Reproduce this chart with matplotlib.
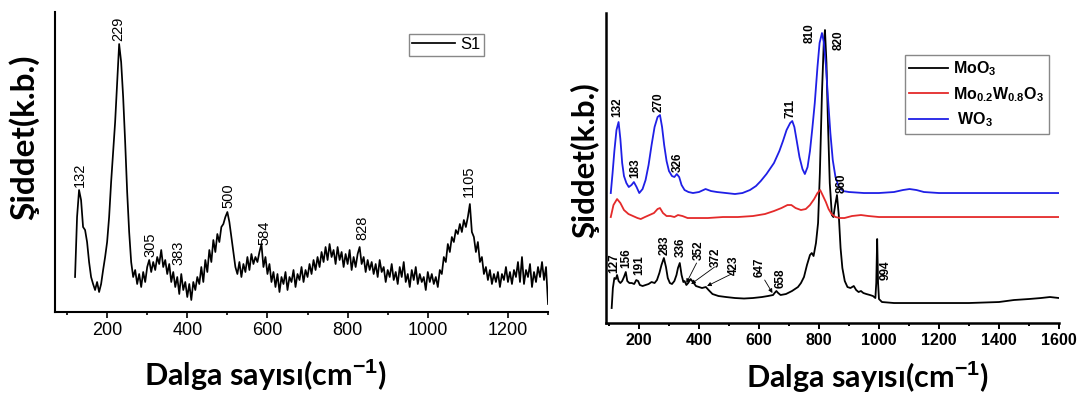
import numpy as np
import matplotlib.pyplot as plt

plt.rcParams["font.family"] = "Liberation Sans"
plt.rcParams["mathtext.fontset"] = "custom"
plt.rcParams["mathtext.rm"] = "Liberation Sans:bold"
plt.rcParams["mathtext.default"] = "rm"

# ---- S1 Raman spectrum (left) ----
s1_shift = np.arange(120, 1301, 5)
s1_intensity = (
    [35, 95, 122, 112, 85, 82, 70, 50, 35, 28, 22, 30, 20, 28, 42, 55, 70, 95, 130, 160]      # 120-215
    + [190, 230, 268, 250, 215, 170, 120, 80, 50, 35, 42, 28, 38, 25, 40, 30, 45, 52, 40, 50]  # 220-315
    + [42, 55, 48, 62, 45, 52, 38, 48, 30, 40, 25, 35, 18, 38, 22, 30, 15, 28, 12, 30]         # 320-415
    + [22, 35, 28, 45, 30, 52, 40, 62, 50, 72, 60, 78, 70, 85, 88, 95, 100, 90, 75, 60]        # 420-515
    + [45, 38, 50, 35, 48, 40, 55, 42, 58, 48, 55, 50, 60, 68, 45, 55, 38, 48, 30, 40]         # 520-615
    + [25, 38, 20, 35, 28, 40, 22, 35, 30, 42, 25, 38, 32, 45, 30, 42, 35, 48, 38, 52]         # 620-715
    + [42, 55, 45, 60, 50, 65, 52, 68, 55, 62, 48, 65, 52, 60, 45, 58, 48, 62, 42, 55]         # 720-815
    + [45, 58, 65, 48, 55, 40, 52, 42, 50, 38, 48, 35, 52, 40, 45, 30, 42, 35, 48, 32]         # 820-915
    + [40, 28, 45, 35, 50, 30, 38, 25, 42, 32, 45, 28, 38, 30, 35, 22, 40, 30, 38, 28]         # 920-1015
    + [35, 25, 42, 38, 55, 50, 68, 60, 75, 70, 82, 78, 88, 80, 92, 85, 95, 108, 80, 75]        # 1020-1115
    + [60, 70, 50, 55, 38, 45, 32, 42, 28, 38, 30, 40, 25, 38, 32, 45, 30, 40, 28, 42]         # 1120-1215
    + [35, 50, 30, 55, 28, 42, 35, 48, 25, 40, 30, 45, 35, 50, 32, 45, 8]                      # 1220-1300
)
s1_peaks = ["132", "229", "305", "383", "500", "584", "828", "1105"]

# ---- MoO3 / Mo0.2W0.8O3 / WO3 spectra (right) ----
moo3_shift = [109, 113, 118, 123, 127, 132, 138, 144, 150, 156, 161, 168, 176, 184, 191, 197,
              203, 212, 222, 232, 242, 252, 260, 268, 275, 283, 290, 296, 303, 310, 318, 325,
              330, 336, 342, 348, 352, 358, 364, 372, 380, 390, 400, 410, 423, 432, 445, 465,
              490, 520, 550, 580, 610, 630, 647, 652, 658, 664, 672, 690, 710, 730, 740, 750,
              760, 770, 776, 782, 790, 797, 803, 810, 816, 820, 825, 830, 836, 843, 848, 854,
              860, 866, 872, 878, 886, 895, 905, 916, 924, 932, 940, 948, 958, 970, 980, 988,
              991, 994, 997, 1000, 1010, 1050, 1100, 1200, 1300, 1400, 1450, 1500, 1540, 1570, 1600]
moo3_int = [15, 35, 45, 44, 48, 42, 40, 42, 46, 51, 42, 40, 40, 39, 43, 42,
            38, 37, 38, 39, 41, 40, 43, 50, 58, 65, 56, 45, 40, 39, 42, 48,
            55, 60, 48, 41, 42, 38, 40, 44, 41, 37, 36, 35, 36, 33, 29, 27,
            26, 25, 24.5, 25, 26, 27, 28, 30, 32, 30, 28, 29, 32, 36, 40, 46,
            58, 68, 70, 67, 80, 100, 150, 230, 280, 293, 260, 200, 140, 108, 106, 118,
            128, 108, 75, 55, 42, 36, 35, 37, 33, 31, 32, 30, 29, 28, 27, 25,
            40, 84, 40, 24, 21, 20, 20, 20, 20, 21, 23, 24, 25, 26, 25]

mix_shift = [106, 115, 127, 138, 150, 165, 180, 195, 206, 220, 235, 250, 262, 270, 280, 292,
             305, 318, 330, 345, 362, 390, 430, 480, 530, 580, 620, 650, 675, 695, 708, 722,
             740, 756, 770, 784, 795, 804, 812, 823, 832, 842, 855, 870, 885, 910, 940, 965,
             1000, 1050, 1100, 1200, 1400, 1600]
mix_int = [106, 118, 124, 120, 113, 109, 107, 105, 104, 106, 108, 110, 114, 115, 110, 107,
           107, 106, 108, 107, 105, 105, 105, 106, 106, 107, 109, 112, 115, 118, 118, 115,
           113, 114, 118, 124, 130, 133, 128, 121, 114, 109, 106, 105, 105, 107, 108, 107,
           106, 106, 106, 106, 106, 106]

wo3_shift = [106, 112, 118, 125, 132, 138, 144, 150, 158, 166, 175, 183, 192, 201, 212, 222,
             232, 242, 252, 262, 270, 277, 284, 292, 300, 310, 318, 326, 334, 342, 352, 365,
             380, 400, 422, 440, 460, 490, 520, 545, 570, 590, 606, 625, 650, 668, 680, 692,
             704, 711, 718, 726, 735, 745, 753, 762, 770, 778, 786, 795, 802, 810, 816, 823,
             830, 838, 846, 855, 865, 880, 900, 950, 1000, 1050, 1080, 1102, 1125, 1150, 1200,
             1300, 1400, 1500, 1600]
wo3_int = [130, 150, 172, 193, 201, 184, 160, 147, 140, 136, 138, 141, 136, 130, 134, 143,
           158, 178, 196, 206, 208, 196, 178, 162, 152, 147, 146, 149, 146, 138, 133, 131,
           130, 131, 134, 132, 131, 130, 129, 130, 133, 137, 142, 149, 160, 172, 182, 193,
           200, 202, 196, 182, 166, 154, 149, 156, 172, 195, 220, 256, 280, 290, 281, 258,
           225, 190, 163, 146, 137, 132, 131, 130, 130, 131, 133, 134, 133, 131, 130,
           130, 130, 130, 130]

wo3_peaks = ["132", "183", "270", "326", "711", "810"]
moo3_peaks = ["127", "156", "191", "283", "336", "352", "372", "423", "647", "658",
              "820", "860", "994"]

# label placement: (x, bottom of text)
s1_label_pos = [(131, 125), (229, 271), (307, 55), (378, 47), (502, 104),
                (592, 67), (836, 72), (1102, 115)]
wo3_label_pos = [(128, 206), (188, 145), (266, 211), (328, 151), (705, 205), (768, 280)]
moo3_label_pos = [(118, 50), (157, 55), (200, 48), (285, 68), (340, 66), (400, 63),
                  (457, 56), (516, 48), (603, 46), (673, 35), (864, 273), (877, 130),
                  (1022, 43)]
# leader arrows for crowded MoO3 bands: (text end, arrow tip)
moo3_arrows = [((392, 60), (358, 40)), ((452, 56), (374, 39)),
               ((508, 49), (427, 37)), ((619, 43), (645, 30))]

fig = plt.figure(figsize=(10.85, 3.96), dpi=100)

# ---------- left panel ----------
ax1 = fig.add_axes([0.0507, 0.2121, 0.4544, 0.7576])
ax1.plot(s1_shift, s1_intensity, color="black", lw=1.25, label="S1")
ax1.set_xlim(70, 1300)
ax1.set_ylim(0, 300)
for side in ("top", "right"):
    ax1.spines[side].set_visible(False)
for side in ("left", "bottom"):
    ax1.spines[side].set_linewidth(1.5)
ax1.set_yticks([])
ax1.set_xticks([200, 400, 600, 800, 1000, 1200])
ax1.set_xticks(np.arange(100, 1301, 100), minor=True)
ax1.tick_params(axis="x", which="major", direction="out", length=4, width=1.2,
                labelsize=13, pad=3)
ax1.tick_params(axis="x", which="minor", direction="out", length=2.5, width=1.2)
for txt, (x, y) in zip(s1_peaks, s1_label_pos):
    ax1.text(x, y, txt, rotation=90, ha="center", va="bottom", fontsize=10.5)
ax1.legend(loc="upper right", bbox_to_anchor=(0.870, 0.927), borderaxespad=0,
           fancybox=False, edgecolor="#888888", fontsize=12, handlelength=2.6,
           handletextpad=0.3, borderpad=0.2, framealpha=1)

# ---------- right panel ----------
ax2 = fig.add_axes([0.5585, 0.1843, 0.4175, 0.7828])
ax2.plot(moo3_shift, moo3_int, color="black", lw=1.3, label="MoO$_3$")
ax2.plot(mix_shift, mix_int, color="#e42a2a", lw=1.3, label="Mo$_{0.2}$W$_{0.8}$O$_3$")
ax2.plot(wo3_shift, wo3_int, color="#1f1fe6", lw=1.3, label=" WO$_3$")
ax2.set_xlim(90, 1600)
ax2.set_ylim(0, 310)
for side in ("top", "right"):
    ax2.spines[side].set_visible(False)
for side in ("left", "bottom"):
    ax2.spines[side].set_linewidth(1.8)
ax2.set_yticks([])
ax2.set_xticks(np.arange(200, 1601, 200))
ax2.set_xticks(np.arange(100, 1601, 100), minor=True)
ax2.tick_params(axis="x", which="major", direction="out", length=4, width=1.4,
                labelsize=11.5, pad=3)
ax2.tick_params(axis="x", which="minor", direction="out", length=2.5, width=1.4)
for lbl in ax2.get_xticklabels():
    lbl.set_fontweight("bold")
for txt, (x, y) in zip(wo3_peaks + moo3_peaks, wo3_label_pos + moo3_label_pos):
    ax2.text(x, y, txt, rotation=90, ha="center", va="bottom", fontsize=8.5,
             fontweight="bold")
for start, tip in moo3_arrows:
    ax2.annotate("", xy=tip, xytext=start,
                 arrowprops=dict(arrowstyle="-|>", color="black", lw=0.6,
                                 mutation_scale=6, shrinkA=0, shrinkB=0))
ax2.legend(loc="upper right", bbox_to_anchor=(0.978, 0.865), borderaxespad=0,
           fancybox=False, edgecolor="#888888",
           prop={"size": 11.5, "weight": "bold"}, handlelength=2.4,
           handletextpad=0.35, labelspacing=0.42, borderpad=0.3, framealpha=1)

# axis titles
lab = dict(family=["Lato", "DejaVu Sans"], fontweight="bold", color="black")
fig.text(24 / 1085, 1 - 137 / 396, "Şiddet(k.b.)", rotation=90, ha="center",
         va="center", fontsize=24, **lab)
fig.text(585 / 1085, 1 - 160 / 396, "Şiddet(k.b.)", rotation=90, ha="center",
         va="center", fontsize=22.5, **lab)
fig.text(265 / 1085, 1 - 375 / 396, "Dalga sayısı(cm$^{-1}$)", ha="center",
         va="center", fontsize=22, **lab)
fig.text(867 / 1085, 1 - 377 / 396, "Dalga sayısı(cm$^{-1}$)", ha="center",
         va="center", fontsize=22, **lab)

fig.savefig("out.png", dpi=100)
